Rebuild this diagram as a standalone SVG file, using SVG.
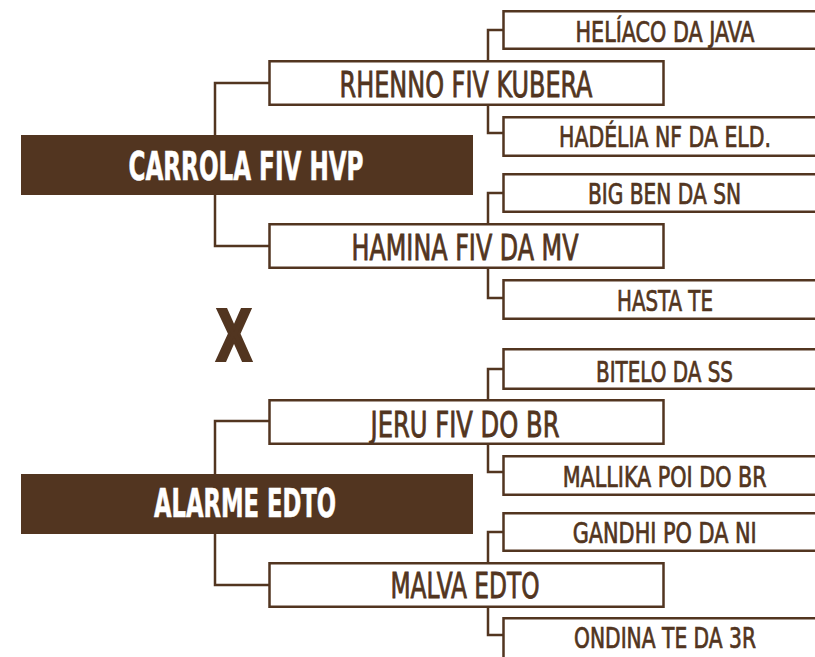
<svg xmlns="http://www.w3.org/2000/svg" width="815" height="657" viewBox="0 0 815 657">
<style>
.dark{fill:#523520}
.box{fill:#ffffff;stroke:#523520;stroke-width:2.5}
.conn{fill:none;stroke:#523520;stroke-width:2.5}
text{font-family:"Liberation Sans Narrow","DejaVu Sans Condensed","Liberation Sans",sans-serif;text-anchor:middle}
.w{fill:#ffffff;stroke:#ffffff;stroke-width:0.6;font-weight:bold;font-size:39px}
.m{fill:#523520;stroke:#523520;stroke-width:0.8;font-size:35px}
.s{fill:#523520;stroke:#523520;stroke-width:0.7;font-size:29px}
.x{font-family:"Liberation Sans",sans-serif;font-weight:bold;font-size:72px;fill:#523520;stroke:#523520;stroke-width:4}
</style>
<rect width="815" height="657" fill="#ffffff"/>
<g id="connectors">
<path class="conn" d="M215,135 V83 H270"/>
<path class="conn" d="M215,195 V246 H270"/>
<path class="conn" d="M215,474 V421 H270"/>
<path class="conn" d="M215,534 V585 H270"/>
<path class="conn" d="M488,60 V30 H504"/>
<path class="conn" d="M488,106 V133 H504"/>
<path class="conn" d="M488,223 V193 H504"/>
<path class="conn" d="M488,269 V298 H504"/>
<path class="conn" d="M488,399 V369 H504"/>
<path class="conn" d="M488,445 V472 H504"/>
<path class="conn" d="M488,562 V532 H504"/>
<path class="conn" d="M488,608 V635 H504"/>
</g>
<g id="carrola">
<rect class="dark" x="21" y="135" width="452" height="60"/>
<text class="w" x="246" y="180" textLength="235" lengthAdjust="spacingAndGlyphs">CARROLA FIV HVP</text>
</g>
<g id="alarme">
<rect class="dark" x="21" y="474" width="452" height="60"/>
<text class="w" x="245" y="517" textLength="182" lengthAdjust="spacingAndGlyphs">ALARME EDTO</text>
</g>
<g id="cross">
<text class="x" x="234" y="360" textLength="34" lengthAdjust="spacingAndGlyphs">X</text>
</g>
<g id="rhenno">
<rect class="box" x="269.5" y="61.25" width="394" height="43.5"/>
<text class="m" x="466" y="97" textLength="253" lengthAdjust="spacingAndGlyphs">RHENNO FIV KUBERA</text>
</g>
<g id="hamina">
<rect class="box" x="269.5" y="224.25" width="394" height="43.5"/>
<text class="m" x="465" y="259.5" textLength="227" lengthAdjust="spacingAndGlyphs">HAMINA FIV DA MV</text>
</g>
<g id="jeru">
<rect class="box" x="269.5" y="400.25" width="394" height="43.5"/>
<text class="m" x="465" y="436.7" textLength="189" lengthAdjust="spacingAndGlyphs">JERU FIV DO BR</text>
</g>
<g id="malva">
<rect class="box" x="269.5" y="563.25" width="394" height="43.5"/>
<text class="m" x="465" y="598.3" textLength="149" lengthAdjust="spacingAndGlyphs">MALVA EDTO</text>
</g>
<g id="heliaco">
<rect class="box" x="503.5" y="11.25" width="330" height="37.5"/>
<text class="s" x="665" y="42" textLength="179" lengthAdjust="spacingAndGlyphs">HELÍACO DA JAVA</text>
</g>
<g id="hadelia">
<rect class="box" x="503.5" y="117.25" width="330" height="38.5"/>
<text class="s" transform="translate(665 147.3) scale(0.8 1)" x="0" y="0" textLength="265" lengthAdjust="spacingAndGlyphs">HADÉLIA NF DA ELD.</text>
</g>
<g id="bigben">
<rect class="box" x="503.5" y="174.25" width="330" height="37.5"/>
<text class="s" x="664.5" y="204" textLength="153" lengthAdjust="spacingAndGlyphs">BIG BEN DA SN</text>
</g>
<g id="hasta">
<rect class="box" x="503.5" y="280.25" width="330" height="38.5"/>
<text class="s" x="665" y="310.7" textLength="96" lengthAdjust="spacingAndGlyphs">HASTA TE</text>
</g>
<g id="bitelo">
<rect class="box" x="503.5" y="349.25" width="330" height="39.5"/>
<text class="s" x="664.5" y="381.7" textLength="137" lengthAdjust="spacingAndGlyphs">BITELO DA SS</text>
</g>
<g id="mallika">
<rect class="box" x="503.5" y="456.25" width="330" height="38.5"/>
<text class="s" transform="translate(664.7 487.3) scale(0.8 1)" x="0" y="0" textLength="255" lengthAdjust="spacingAndGlyphs">MALLIKA POI DO BR</text>
</g>
<g id="gandhi">
<rect class="box" x="503.5" y="513.25" width="330" height="37.5"/>
<text class="s" x="664.7" y="543.3" textLength="184" lengthAdjust="spacingAndGlyphs">GANDHI PO DA NI</text>
</g>
<g id="ondina">
<rect class="box" x="503.5" y="618.25" width="330" height="45"/>
<text class="s" x="665" y="648.3" textLength="182" lengthAdjust="spacingAndGlyphs">ONDINA TE DA 3R</text>
</g>
</svg>
